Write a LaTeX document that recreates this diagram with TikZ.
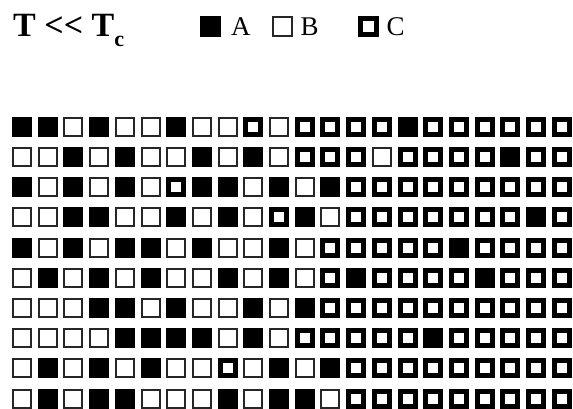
\documentclass[tikz,border=0pt]{standalone}
\usepackage{fontspec}
\setmainfont{Liberation Serif}
\usetikzlibrary{positioning}

\begin{document}
\begin{tikzpicture}[
            x=1pt, y=-1pt,
            node distance=10pt,
            siteA/.style={fill=black, minimum size=20pt, inner sep=0pt, outer sep=0pt},
            siteB/.style={draw=black!85, line width=2pt, fill=white, minimum size=18pt, inner sep=0pt, outer sep=0pt},
            siteC/.style={draw=black, line width=5pt, fill=white, minimum size=15pt, inner sep=0pt, outer sep=0pt},
            title/.style={font=\fontsize{34}{34}\selectfont\bfseries, inner sep=0pt, anchor=base west},
            legend/.style={font=\fontsize{27}{27}\selectfont, inner sep=0pt}
        ]
            \useasboundingbox (0,0) rectangle (573,409);

            % heading
            \node[title] (temp) at (13,37) {T <\kern0pt< T\raisebox{-0.28em}{\fontsize{22}{22}\selectfont c}};

            % key
            \node[siteA, minimum size=21pt] (keyA) at (210.5,27) {};
            \node[legend, right=10pt of keyA] (nameA) {A};
            \node[siteB, minimum size=19pt] (keyB) at (282,27) {};
            \node[legend, right=9pt of keyB] (nameB) {B};
            \node[siteC, minimum size=16pt] (keyC) at (368.5,27) {};
            \node[legend, right=10pt of keyC] (nameC) {C};

            % lattice, one row per line
            \foreach \row [count=\rw] in {
                {A,A,B,A,B,B,A,B,B,C,B,C,C,C,C,A,C,C,C,C,C,C},
                {B,B,A,B,A,B,B,A,B,A,B,C,C,C,B,C,C,C,C,A,C,C},
                {A,B,A,B,A,B,C,A,A,B,A,B,A,C,C,C,C,C,C,C,C,C},
                {B,B,A,A,B,B,A,B,A,B,C,A,B,C,C,C,C,C,C,C,A,C},
                {A,B,A,B,A,A,B,A,B,B,A,B,C,C,C,C,C,A,C,C,C,C},
                {B,A,B,A,B,A,B,B,A,B,A,B,C,A,C,C,C,C,A,C,C,C},
                {B,B,B,A,A,B,A,B,B,A,B,A,C,C,C,C,C,C,C,C,C,C},
                {B,B,B,B,A,A,A,A,B,A,B,C,C,C,C,C,A,C,C,C,C,C},
                {B,A,B,A,B,A,B,B,C,B,A,B,A,C,C,C,C,C,C,C,C,C},
                {B,A,B,A,A,B,B,B,A,B,A,A,B,C,C,C,C,C,C,C,C,C}} {
                \foreach \t [count=\col] in \row {
                    \node[site\t] (cell-\rw-\col) at ({22+25.7*(\col-1)},{126.8+30.2*(\rw-1)}) {};
                }
            }
        \end{tikzpicture}
\end{document}
